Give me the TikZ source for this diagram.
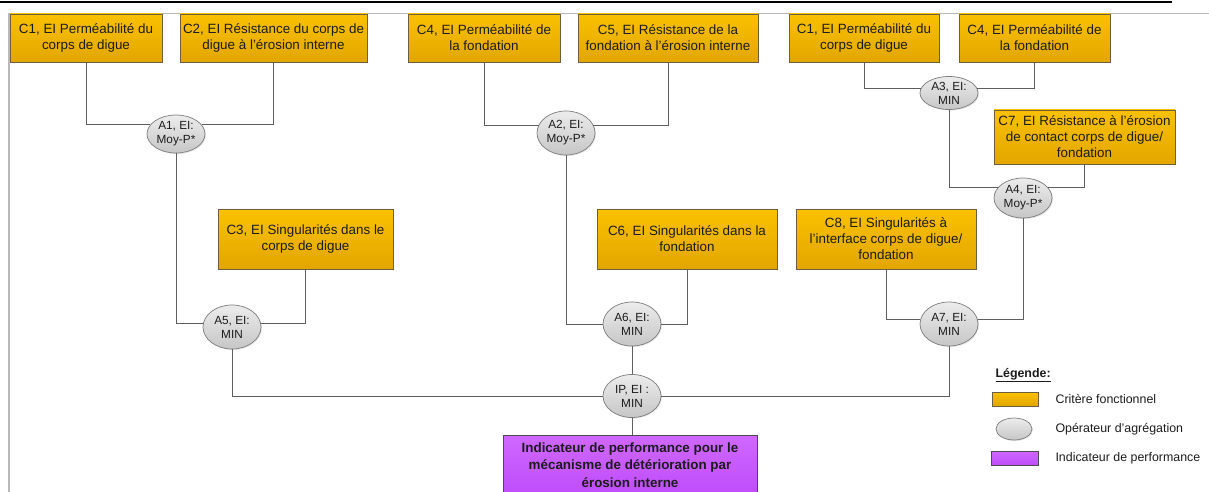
\documentclass[tikz,border=0pt]{standalone}
\usepackage{fontspec}
\setmainfont{Liberation Sans}
\usetikzlibrary{shapes.geometric,shadows}
\definecolor{critA}{RGB}{250,193,0}
\definecolor{critB}{RGB}{226,166,0}
\definecolor{critline}{RGB}{110,95,60}
\definecolor{operA}{RGB}{236,236,236}
\definecolor{operB}{RGB}{198,198,198}
\definecolor{operline}{RGB}{125,125,125}
\definecolor{ipA}{RGB}{208,104,255}
\definecolor{ipB}{RGB}{190,76,250}
\definecolor{linkcol}{RGB}{95,95,95}
\definecolor{txt}{RGB}{28,28,28}
\begin{document}
\begin{tikzpicture}[x=1pt,y=-1pt,
	crit/.style={draw=critline,line width=.7pt,top color=critA,bottom color=critB,text=txt,
		inner sep=0pt,minimum height=48pt,align=center,font=\fontsize{13.4}{16}\selectfont,
		drop shadow={opacity=.25,shadow xshift=1.3pt,shadow yshift=-1.3pt}},
	oper/.style={ellipse,draw=operline,line width=.7pt,top color=operA,bottom color=operB,text=txt,
		inner sep=0pt,minimum width=58pt,minimum height=44pt,align=center,font=\fontsize{11.8}{14}\selectfont,
		drop shadow={opacity=.2,shadow xshift=1pt,shadow yshift=-1pt}},
	link/.style={draw=linkcol,line width=.9pt},
	legtext/.style={anchor=west,text=txt,font=\fontsize{12.4}{15}\selectfont}]
\useasboundingbox (0,0) rectangle (1209,492);
\clip (0,0) rectangle (1209,492);
% page edges
\draw[line width=2.6pt] (0,2) -- (1172,2);
\draw[gray!55,line width=1.7pt] (9,492) -- (9,13.5) -- (1209,13.5);

% criteria
\node[crit,minimum width=152pt] (C1a) at (86,38) {C1, EI Perméabilité du\\corps de digue};
\node[crit,minimum width=187pt] (C2) at (273.5,38) {C2, EI Résistance du corps de\\digue à l’érosion interne};
\node[crit,minimum width=152pt] (C4a) at (484,38) {C4, EI Perméabilité de\\la fondation};
\node[crit,minimum width=180pt] (C5) at (668,38) {C5, EI Résistance de la\\fondation à l’érosion interne};
\node[crit,minimum width=150pt] (C1b) at (864,38) {C1, EI Perméabilité du\\corps de digue};
\node[crit,minimum width=151pt] (C4b) at (1034.5,38) {C4, EI Perméabilité de\\la fondation};
\node[crit,minimum width=181pt,minimum height=54pt] (C7) at (1084.5,137) {C7, EI Résistance à l’érosion\\de contact corps de digue/\\fondation};
\node[crit,minimum width=175pt,minimum height=60pt] (C3) at (305.5,239) {C3, EI Singularités dans le\\corps de digue};
\node[crit,minimum width=180pt,minimum height=60pt] (C6) at (687,239) {C6, EI Singularités dans la\\fondation};
\node[crit,minimum width=180pt,minimum height=60pt] (C8) at (886,239) {C8, EI Singularités à\\l’interface corps de digue/\\fondation};

% aggregation operators
\node[oper,minimum height=38pt] (A1) at (176,134) {A1, EI:\\Moy-P*};
\node[oper] (A2) at (566,133) {A2, EI:\\Moy-P*};
\node[oper,minimum height=33pt] (A3) at (949,93) {A3, EI:\\MIN};
\node[oper,minimum height=40pt] (A4) at (1023,198) {A4, EI:\\Moy-P*};
\node[oper] (A5) at (232,327) {A5, EI:\\MIN};
\node[oper] (A6) at (632,324) {A6, EI:\\MIN};
\node[oper] (A7) at (949,324) {A7, EI:\\MIN};
\node[oper,minimum height=43pt] (IP) at (632,396) {IP, EI :\\MIN};

% performance indicator
\node[draw=black!70,line width=.8pt,top color=ipA,bottom color=ipB,text=txt,inner sep=0pt,
	minimum width=254pt,minimum height=60pt,align=center,font=\bfseries\fontsize{13.4}{17.5}\selectfont,
	drop shadow={opacity=.25,shadow xshift=1.3pt,shadow yshift=-1.3pt}] (IPbox) at (630,465)
	{Indicateur de performance pour le\\mécanisme de détérioration par\\érosion interne};

% links
\draw[link] (C1a.south) |- (A1.160);
\draw[link] (C2.south) |- (A1.20);
\draw[link] (C4a.south) |- (A2.164);
\draw[link] (C5.south) |- (A2.16);
\draw[link] (C1b.south) |- (A3.170);
\draw[link] (C4b.south) |- (A3.10);
\draw[link] (A3.south) |- (A4.158);
\draw[link] (C7.south) |- (A4.22);
\draw[link] (A1.south) |- (A5.174);
\draw[link] (C3.south) |- (A5.6);
\draw[link] (A2.south) |- (A6.west);
\draw[link] (C6.south) |- (A6.east);
\draw[link] (C8.south) |- (A7.172);
\draw[link] (A4.south) |- (A7.8);
\draw[link] (A5.south) |- (IP.west);
\draw[link] (A7.south) |- (IP.east);
\draw[link] (A6.south) -- (IP.north);
\draw[link] (IP.south) -- (IP.south |- IPbox.north);

% legend
\node[anchor=west,text=txt,font=\bfseries\fontsize{12.4}{15}\selectfont] (leg) at (992,375) {\underline{Légende:}};
\node[crit,minimum width=46pt,minimum height=14pt] (legC) at (1015,399) {};
\node[legtext] (legCt) at (1052,399) {Critère fonctionnel};
\node[oper,minimum width=36pt,minimum height=22pt] (legA) at (1014,429) {};
\node[legtext] (legAt) at (1052,429) {Opérateur d’agrégation};
\node[draw=black!70,line width=.8pt,top color=ipA,bottom color=ipB,minimum width=47pt,minimum height=14pt,inner sep=0pt,
	drop shadow={opacity=.25,shadow xshift=1.3pt,shadow yshift=-1.3pt}] (legI) at (1014.5,458) {};
\node[legtext] (legIt) at (1052,458) {Indicateur de performance};
\end{tikzpicture}
\end{document}
